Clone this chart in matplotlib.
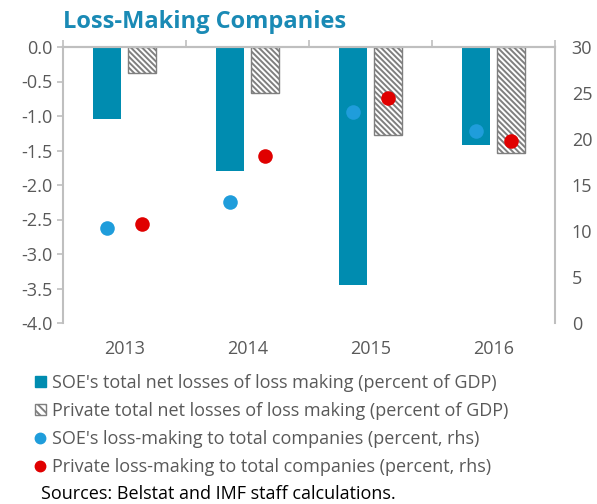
import matplotlib
matplotlib.use("Agg")
import matplotlib.pyplot as plt
from matplotlib.patches import Patch
from matplotlib.lines import Line2D
import numpy as np

plt.rcParams['font.family'] = ['Open Sans', 'DejaVu Sans']
plt.rcParams['hatch.linewidth'] = 1.4
plt.rcParams['hatch.color'] = '#111111'

years = ['2013', '2014', '2015', '2016']
soe_losses = [-1.04, -1.79, -3.45, -1.42]       # percent of GDP
private_losses = [-0.37, -0.66, -1.28, -1.54]   # percent of GDP
soe_share = [10.3, 13.2, 22.9, 20.9]            # percent, rhs
private_share = [10.8, 18.2, 24.5, 19.8]        # percent, rhs

teal = '#008cb0'
blue = '#1f9ddb'
red = '#e00000'
gray = '#595959'
axis_gray = '#bfbfbf'
hatch = '\\' * 6

fig = plt.figure(figsize=(5.97, 5.04), dpi=100)
ax = fig.add_axes([63/597, 1-323/504, (555-63)/597, (323-47)/504])
ax2 = ax.twinx()

x = np.arange(len(years))
w = 0.225
off = 0.14

ax.bar(x - off, soe_losses, w, color=teal, zorder=2)
ax.bar(x + off, private_losses, w, facecolor='white', edgecolor='#7f7f7f',
       hatch=hatch, linewidth=1.0, zorder=2)

ax2.scatter(x - off, soe_share, s=110, color=blue, zorder=3, linewidths=0)
ax2.scatter(x + off, private_share, s=110, color=red, zorder=3, linewidths=0)

ax.set_xlim(-0.5, 3.5)
ax.set_ylim(-4.0, 0.0)
ax.set_yticks(np.arange(-4.0, 0.01, 0.5))
ax.set_yticklabels([f'{v:.1f}' for v in np.arange(-4.0, 0.01, 0.5)])
ax2.set_ylim(0, 30)
ax2.set_yticks(np.arange(0, 31, 5))

# category axis sits along zero at the top, labels below the plot
ax.set_xticks(x)
ax.set_xticklabels(years)
ax.tick_params(axis='x', which='major', length=0, pad=12, labelsize=13, colors=gray)
ax.set_xticks(np.arange(-0.5, 3.6, 1.0), minor=True)
ax.tick_params(axis='x', which='minor', top=True, bottom=False, direction='out',
               length=5, color=axis_gray, width=1.2)

ax.tick_params(axis='y', labelsize=13, colors=gray, length=4, color=axis_gray, width=1.2)
ax2.tick_params(axis='y', labelsize=13, colors=gray, length=0, pad=12)

for a in (ax, ax2):
    a.spines['bottom'].set_visible(False)
    for s in ('top', 'left', 'right'):
        a.spines[s].set_color(axis_gray)
        a.spines[s].set_linewidth(1.5)
ax2.spines['left'].set_visible(False)
ax.spines['right'].set_visible(False)

fig.text(63/597, 1-22/504, 'Loss-Making Companies', fontsize=17, fontweight='bold',
         color='#1a8ab5', va='center', ha='left')

handles = [
    Patch(facecolor=teal, edgecolor=teal),
    Patch(facecolor='white', edgecolor='#7f7f7f', hatch='\\' * 4),
    Line2D([], [], marker='o', linestyle='none', color=blue, markersize=7.5),
    Line2D([], [], marker='o', linestyle='none', color=red, markersize=7.5),
]
labels = [
    "SOE's total net losses of loss making (percent of GDP)",
    "Private total net losses of loss making (percent of GDP)",
    "SOE's loss-making to total companies (percent, rhs)",
    "Private loss-making to total companies (percent, rhs)",
]
leg = fig.legend(handles, labels, loc='upper left', bbox_to_anchor=(35/597, 1-374/504),
                 frameon=False, fontsize=13, handlelength=0.6, handleheight=0.6,
                 handletextpad=0.33, labelspacing=0.55, borderpad=0, borderaxespad=0)
for t in leg.get_texts():
    t.set_color(gray)

fig.text(41/597, 1-494/504, 'Sources: Belstat and IMF staff calculations.',
         fontsize=13, color='black', va='center', ha='left')

fig.savefig('out.png', dpi=100)
